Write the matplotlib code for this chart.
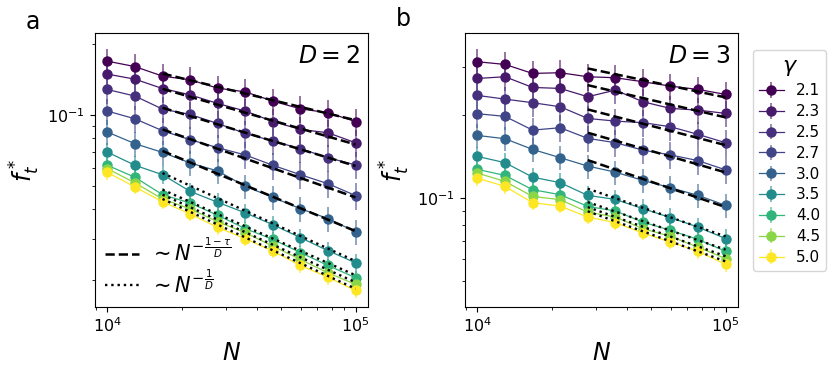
import numpy as np
import matplotlib
matplotlib.use('Agg')
import matplotlib.pyplot as plt
from matplotlib.ticker import NullFormatter
from matplotlib.lines import Line2D

N = [10000, 12915, 16681, 21544, 27826, 35938, 46416, 59948, 77426, 100000]
gammas = ['2.1', '2.3', '2.5', '2.7', '3.0', '3.5', '4.0', '4.5', '5.0']

# f_t^* for D = 2
f2 = [
    [0.1695, 0.1608, 0.1465, 0.1413, 0.1303, 0.1257, 0.1148, 0.1065, 0.1025, 0.0941],
    [0.1494, 0.1422, 0.1298, 0.1221, 0.1122, 0.1042, 0.0941, 0.0871, 0.0843, 0.0765],
    [0.1286, 0.1206, 0.1062, 0.1008, 0.0923, 0.0838, 0.0778, 0.0722, 0.0661, 0.0616],
    [0.1042, 0.0966, 0.0860, 0.0788, 0.0729, 0.0679, 0.0614, 0.0560, 0.0513, 0.0457],
    [0.0849, 0.0758, 0.0696, 0.0628, 0.0581, 0.0500, 0.0449, 0.0402, 0.0365, 0.0321],
    [0.0698, 0.0614, 0.0560, 0.0476, 0.0428, 0.0386, 0.0344, 0.0303, 0.0267, 0.0237],
    [0.0614, 0.0546, 0.0461, 0.0425, 0.0377, 0.0331, 0.0298, 0.0262, 0.0231, 0.0205],
    [0.0594, 0.0517, 0.0442, 0.0401, 0.0354, 0.0318, 0.0279, 0.0245, 0.0215, 0.0192],
    [0.0573, 0.0497, 0.0430, 0.0382, 0.0335, 0.0300, 0.0266, 0.0231, 0.0206, 0.0181],
]
# f_t^* for D = 3
f3 = [
    [0.3137, 0.3067, 0.2844, 0.2861, 0.2766, 0.2743, 0.2653, 0.2557, 0.2487, 0.2385],
    [0.2727, 0.2766, 0.2529, 0.2508, 0.2339, 0.2473, 0.2243, 0.2121, 0.2091, 0.2034],
    [0.2365, 0.2293, 0.2225, 0.2151, 0.1950, 0.1907, 0.1882, 0.1819, 0.1706, 0.1591],
    [0.2029, 0.1984, 0.1768, 0.1804, 0.1650, 0.1591, 0.1495, 0.1436, 0.1369, 0.1267],
    [0.1691, 0.1645, 0.1504, 0.1403, 0.1308, 0.1243, 0.1160, 0.1091, 0.1023, 0.0941],
    [0.1418, 0.1346, 0.1192, 0.1138, 0.1023, 0.0989, 0.0915, 0.0849, 0.0784, 0.0712],
    [0.1272, 0.1209, 0.1073, 0.1029, 0.0933, 0.0897, 0.0818, 0.0763, 0.0707, 0.0640],
    [0.1233, 0.1150, 0.1014, 0.0987, 0.0889, 0.0853, 0.0774, 0.0725, 0.0663, 0.0602],
    [0.1182, 0.1103, 0.0962, 0.0935, 0.0853, 0.0814, 0.0746, 0.0692, 0.0640, 0.0574],
]
# relative error bar size per gamma
err2 = [0.13, 0.13, 0.13, 0.13, 0.12, 0.09, 0.07, 0.07, 0.07]
err3 = [0.11, 0.11, 0.11, 0.11, 0.10, 0.08, 0.07, 0.06, 0.06]

# power-law guides: value at first and last N of the fit range
fit2_start = [0.1502, 0.1294, 0.1076, 0.0871, 0.0706, 0.0569, 0.0484, 0.0461, 0.0442]
fit2_end = [0.0953, 0.0752, 0.0610, 0.0449, 0.0323, 0.0241, 0.0210, 0.0196, 0.0184]
fit3_start = [0.2966, 0.2578, 0.2103, 0.1730, 0.1375, 0.1082, 0.0967, 0.0927, 0.0895]
fit3_end = [0.2326, 0.1967, 0.1559, 0.1240, 0.0927, 0.0725, 0.0649, 0.0614, 0.0588]

gvals = np.array([float(g) for g in gammas])
cols = plt.cm.viridis((gvals - gvals.min()) / (gvals.max() - gvals.min()))

fig = plt.figure(figsize=(8.31, 3.74), dpi=100)
ax1 = fig.add_axes([0.1143, 0.179, 0.3285, 0.7326])
ax2 = fig.add_axes([0.5596, 0.179, 0.3285, 0.7326])

panels = [(ax1, f2, err2, fit2_start, fit2_end, 2, 2, (0.0154, 0.223)),
          (ax2, f3, err3, fit3_start, fit3_end, 4, 3, (0.0401, 0.399))]

for ax, f, err, fs, fe, i0, D, ylim in panels:
    handles = []
    for i in range(len(gammas)):
        y = np.array(f[i])
        ec = list(cols[i][:3]) + [0.55]
        h = ax.errorbar(N, y, yerr=err[i] * y, marker='o', ms=6.5, lw=0.9,
                        color=cols[i], ecolor=ec, elinewidth=1.4, label=gammas[i])
        handles.append(h)
        ls = '--' if i < 5 else ':'
        lw = 1.8 if i < 5 else 1.7
        ax.plot([N[i0], N[-1]], [fs[i], fe[i]], ls, color='black', lw=lw, zorder=3)
    ax.set_xscale('log')
    ax.set_yscale('log')
    ax.set_ylim(*ylim)
    ax.yaxis.set_minor_formatter(NullFormatter())
    ax.tick_params(labelsize=11.5)
    ax.set_xlabel('$N$', fontsize=17)
    ax.set_ylabel('$f_t^*$', fontsize=17)
    ax.text(0.97, 0.96, '$D=%d$' % D, transform=ax.transAxes, ha='right', va='top', fontsize=17)

guide = [Line2D([], [], ls='--', color='black', lw=1.8),
         Line2D([], [], ls=':', color='black', lw=1.7)]
ax1.legend(guide, [r'$\sim N^{-\frac{1-\tau}{D}}$', r'$\sim N^{-\frac{1}{D}}$'],
           loc='lower left', frameon=False, fontsize=15, handlelength=1.6,
           borderaxespad=0.1, handletextpad=0.5, labelspacing=0.2)

ax2.legend(handles, gammas, title=r'$\gamma$', title_fontsize=16, fontsize=11,
           loc='upper left', bbox_to_anchor=(1.055, 0.94), borderaxespad=0,
           handlelength=1.6, labelspacing=0.38)

fig.text(0.04, 0.94, 'a', fontsize=17, ha='center', va='center')
fig.text(0.486, 0.95, 'b', fontsize=17, ha='center', va='center')

fig.savefig('out.png', dpi=100)
